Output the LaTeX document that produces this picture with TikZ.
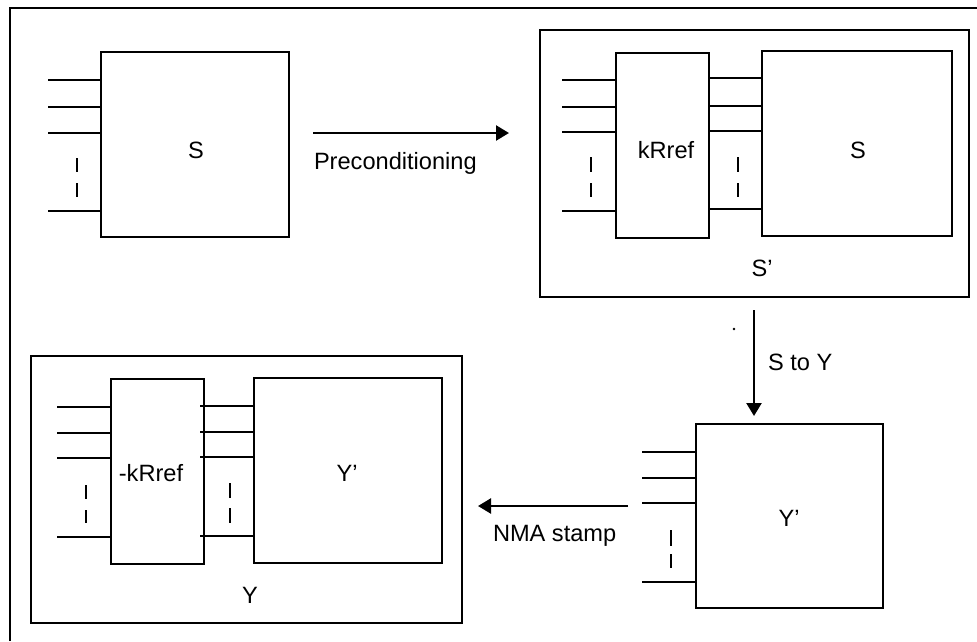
\documentclass[tikz,border=0pt]{standalone}
\usepackage{fontspec}
\setmainfont{Liberation Sans}
\usetikzlibrary{arrows.meta}
\begin{document}
\begin{tikzpicture}[x=1pt,y=-1pt,
  box/.style={draw,line width=2.4pt,inner sep=0pt,outer sep=0pt,rectangle},
  lbl/.style={inner sep=0pt,outer sep=0pt,font=\fontsize{23.6}{28}\selectfont},
  wire/.style={line width=2.4pt},
  tickmark/.style={line width=2.4pt},
  arr/.style={line width=2.4pt,-{Triangle[length=13pt,width=15pt]}}]
\useasboundingbox (0,0) rectangle (977,641);
% outer frame (only top and left edges visible)
\coordinate (fbl) at (10,641);
\coordinate (ftl) at (10,8);
\coordinate (ftr) at (977,8);
\draw[line width=2.4pt] (fbl) -- (ftl) -- (ftr);

% ---------- top-left: S ----------
\node[box,minimum width=188pt,minimum height=185pt] (S1) at (195,144.5) {};
\node[lbl] (S1t) at (196,150) {S};
\foreach \y/\n in {80/a,107/b,133/c,211/d}{
  \coordinate (s1\n) at (48,\y);
  \draw[wire] (s1\n) -- (s1\n -| S1.west);
}
\draw[tickmark] (77,158) -- (77,172) (77,183) -- (77,197);

% ---------- Preconditioning arrow ----------
\coordinate (pa) at (313,133);
\coordinate (pb) at (509,133);
\draw[arr] (pa) -- (pb);
\node[lbl,anchor=west] (pre) at (314,163) {Preconditioning};

% ---------- top-right: S' ----------
\node[box,minimum width=429pt,minimum height=267pt] (Sp) at (754.5,163.5) {};
\node[box,minimum width=93pt,minimum height=185pt] (K1) at (662.5,145.5) {};
\node[box,minimum width=190pt,minimum height=185pt] (S2) at (857,143.5) {};
\node[lbl] (K1t) at (666,150) {kRref};
\node[lbl] (S2t) at (858,150) {S};
\node[lbl] (Spt) at (762,268) {S'};
\foreach \y/\n in {80/a,107/b,132/c,211/d}{
  \coordinate (k1\n) at (562,\y);
  \draw[wire] (k1\n) -- (k1\n -| K1.west);
}
\foreach \y/\n in {78/a,106/b,131/c,209/d}{
  \coordinate (m1\n) at (709,\y);
  \draw[wire] (m1\n) -- (m1\n -| S2.west);
}
\draw[tickmark] (591,157) -- (591,172) (591,183) -- (591,197);
\draw[tickmark] (738,157) -- (738,172) (738,183) -- (738,197);

% ---------- S to Y arrow ----------
\fill (734,329) circle (1.3pt);
\coordinate (sa) at (754,310);
\draw[arr] (sa) -- (754,416);
\node[lbl,anchor=west] (sty) at (768,362) {S to Y};

% ---------- bottom-right: Y' ----------
\node[box,minimum width=187pt,minimum height=184pt] (Y1) at (789.5,516) {};
\node[lbl] (Y1t) at (789,518) {Y'};
\foreach \y/\n in {452/a,478/b,503/c,582/d}{
  \coordinate (y1\n) at (642,\y);
  \draw[wire] (y1\n) -- (y1\n -| Y1.west);
}
\draw[tickmark] (671,530) -- (671,546) (671,554) -- (671,568);

% ---------- NMA stamp arrow ----------
\coordinate (na) at (628,506);
\coordinate (nb) at (478,506);
\draw[arr] (na) -- (nb);
\node[lbl,anchor=west] (nma) at (493,536) {NMA stamp};

% ---------- bottom-left: Y ----------
\node[box,minimum width=431pt,minimum height=267pt] (Yb) at (246.5,489.5) {};
\node[box,minimum width=93pt,minimum height=185pt] (K2) at (157.5,471.5) {};
\node[box,minimum width=188pt,minimum height=185pt] (Y2) at (348,470.5) {};
\node[lbl] (K2t) at (151,473) {-kRref};
\node[lbl] (Y2t) at (347,473) {Y'};
\node[lbl] (Ybt) at (250,595) {Y};
\foreach \y/\n in {407/a,433/b,458/c,537/d}{
  \coordinate (k2\n) at (57,\y);
  \draw[wire] (k2\n) -- (k2\n -| K2.west);
}
\foreach \y/\n in {406/a,432/b,457/c,536/d}{
  \coordinate (m2\n) at (200,\y);
  \draw[wire] (m2\n) -- (m2\n -| Y2.west);
}
\draw[tickmark] (86,485) -- (86,499) (86,510) -- (86,523);
\draw[tickmark] (230,483) -- (230,498) (230,508) -- (230,523);
\end{tikzpicture}
\end{document}
